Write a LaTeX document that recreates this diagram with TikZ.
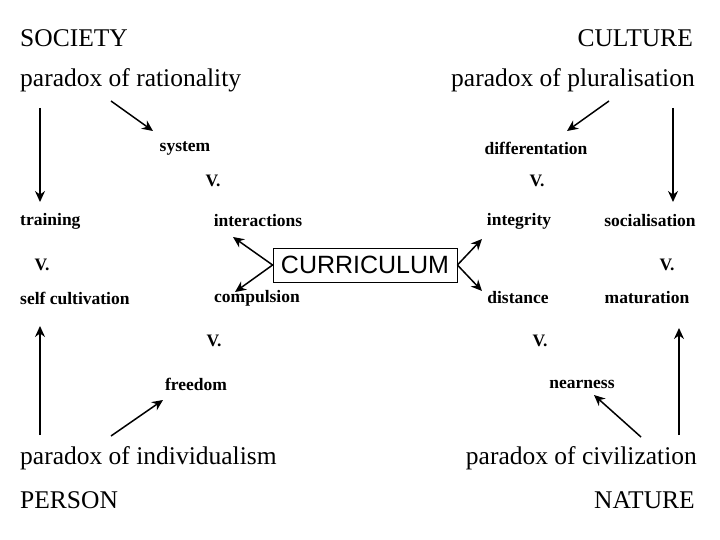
\documentclass[tikz,border=0pt]{standalone}
\usepackage{fontspec}
\usetikzlibrary{arrows.meta}
\setmainfont{Liberation Serif}
\newfontfamily\arialf{Liberation Sans}
\begin{document}
\begin{tikzpicture}[x=1pt,y=-1pt,
 big/.style={inner sep=0pt,font=\fontsize{25.5}{28}\selectfont},
 sml/.style={inner sep=0pt,font=\bfseries\fontsize{17.5}{20}\selectfont},
 arr/.style={draw,line width=1.5pt,-{Stealth[length=11pt,width=10pt]}}]
\useasboundingbox (0,0) rectangle (720,540);
\node[big,anchor=west] (soc) at (20,38) {SOCIETY};
\node[big,anchor=east] (cul) at (693,38) {CULTURE};
\node[big,anchor=west] (pr) at (20,80) {paradox of rationality};
\node[big,anchor=east] (pp) at (695,80) {paradox of pluralisation};
\node[sml] (sys) at (185,148) {system};
\node[sml] (dif) at (536,148) {differentation};
\node[sml] (v1) at (213,181) {V.};
\node[sml] (v2) at (537,181) {V.};
\node[sml,anchor=west] (tr) at (20,221) {training};
\node[sml] (int) at (258,221) {interactions};
\node[sml] (ing) at (519,221) {integrity};
\node[sml] (soc2) at (650,221) {socialisation};
\node[sml] (v3) at (42,265) {V.};
\node[draw,line width=0.8pt,minimum width=184pt,minimum height=34pt,inner sep=0pt,font=\arialf\fontsize{25}{28}\selectfont] (cur) at (365,265) {CURRICULUM};
\node[sml] (v4) at (667,265) {V.};
\node[sml,anchor=west] (sc) at (20,298) {self cultivation};
\node[sml] (com) at (257,298) {compulsion};
\node[sml] (dis) at (518,298) {distance};
\node[sml] (mat) at (647,298) {maturation};
\node[sml] (v5) at (214,341) {V.};
\node[sml] (v6) at (540,341) {V.};
\node[sml] (fr) at (196,384) {freedom};
\node[sml] (nr) at (582,384) {nearness};
\node[big,anchor=west] (pi) at (20,458) {paradox of individualism};
\node[big,anchor=east] (pc) at (697,458) {paradox of civilization};
\node[big,anchor=west] (per) at (20,500) {PERSON};
\node[big,anchor=east] (nat) at (695,500) {NATURE};
\coordinate (a1) at (111,101); \coordinate (a1e) at (153,131);
\coordinate (a2) at (609,101); \coordinate (a2e) at (567,131);
\coordinate (b1) at (40,108); \coordinate (b1e) at (40,202);
\coordinate (b2) at (673,108); \coordinate (b2e) at (673,202);
\coordinate (c1) at (40,435); \coordinate (c1e) at (40,326);
\coordinate (c2) at (679,435); \coordinate (c2e) at (679,328);
\coordinate (d1) at (111,436); \coordinate (d1e) at (163,400);
\coordinate (d2) at (641,437); \coordinate (d2e) at (594,395);
\coordinate (e1) at (233,237); \coordinate (e2) at (235,292);
\coordinate (e3) at (482,239); \coordinate (e4) at (482,291);
\draw[arr] (a1) -- (a1e);
\draw[arr] (a2) -- (a2e);
\draw[arr] (b1) -- (b1e);
\draw[arr] (b2) -- (b2e);
\draw[arr] (c1) -- (c1e);
\draw[arr] (c2) -- (c2e);
\draw[arr] (d1) -- (d1e);
\draw[arr] (d2) -- (d2e);
\draw[arr] (cur.west) -- (e1);
\draw[arr] (cur.west) -- (e2);
\draw[arr] (cur.east) -- (e3);
\draw[arr] (cur.east) -- (e4);
\end{tikzpicture}
\end{document}
